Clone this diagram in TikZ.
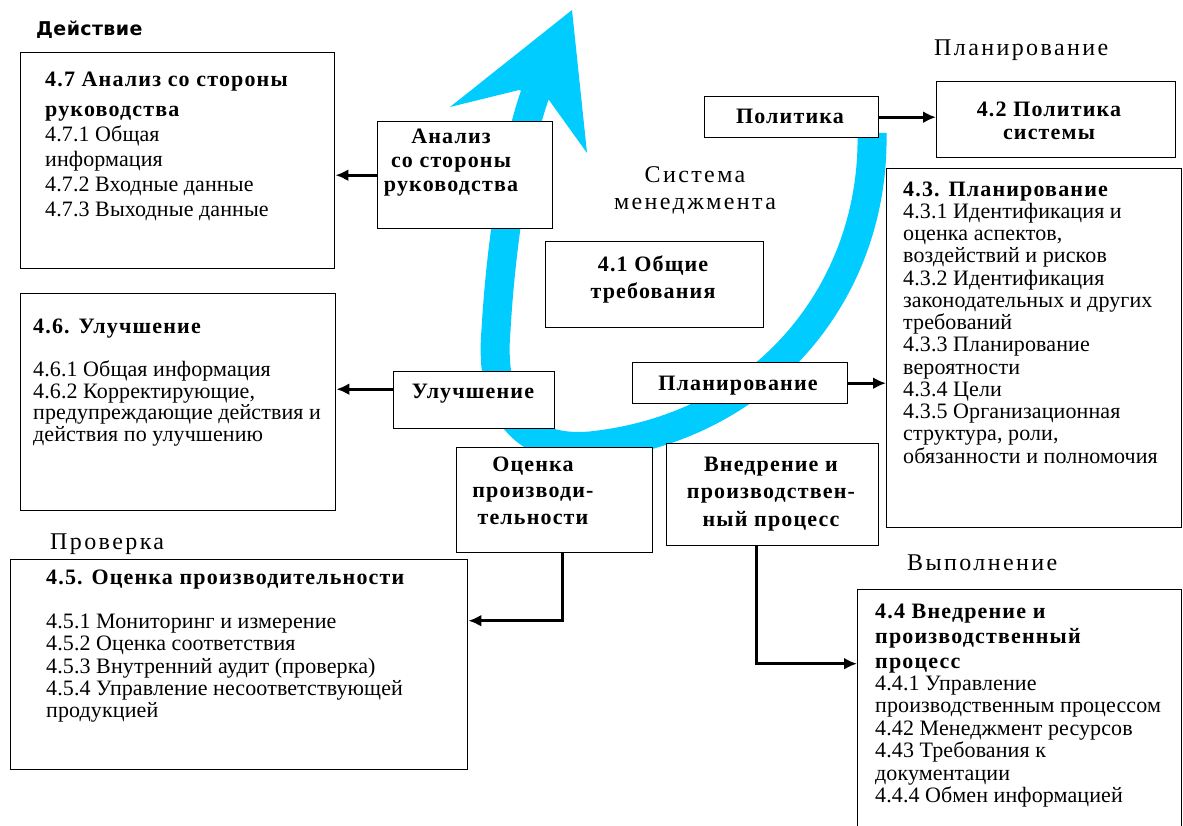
\documentclass[tikz,border=0pt]{standalone}
\usepackage{fontspec}
\setmainfont{Liberation Serif}[LetterSpace=0.5,BoldFeatures={LetterSpace=5.3}]
\newfontfamily\headfont{Liberation Serif}[LetterSpace=10]
\newfontfamily\actfont{DejaVu Sans}[LetterSpace=2]
\usetikzlibrary{arrows.meta,calc}
\definecolor{cycleblue}{RGB}{0,204,255}

% multi-line nodes below are placed by the baseline of their last line
\tikzset{
  frame/.style={draw=black, line width=1.4pt, fill=white, inner sep=0pt, anchor=north west},
  body/.style={anchor=base west, align=left, inner sep=0pt, font=\fontsize{22}{22.3}\selectfont},
  boxlabel/.style={anchor=base, align=center, inner sep=0pt, font=\bfseries\fontsize{22}{25}\selectfont},
  heading/.style={anchor=base west, inner sep=0pt, font=\headfont\fontsize{24}{27}\selectfont},
  conn/.style={line width=3pt, -{Latex[length=13pt,width=12pt]}},
}

\begin{document}
\begin{tikzpicture}[x=1pt,y=-1pt]
\useasboundingbox[fill=white] (0,0) rectangle (1183,825);

% the improvement cycle: a wide blue band ending in a barbed head
\draw[cycleblue, line width=29pt, line cap=butt]
  (872,133) .. controls (875,290) and (765,428) .. (590,446)
            .. controls (515,452) and (490,400) .. (496,330)
            .. controls (500,260) and (512,160) .. (535.5,93);
\fill[cycleblue] (572,10) -- (587,153) -- (549,100) -- (519,90) -- (450,107) -- cycle;

% frames
\node[frame, minimum width=314pt, minimum height=216pt] (b47) at (20,52) {};
\node[frame, minimum width=175pt, minimum height=107pt] (an)  at (377,121) {};
\node[frame, minimum width=174pt, minimum height=41pt]  (pol) at (704,96) {};
\node[frame, minimum width=239pt, minimum height=76pt]  (b42) at (936,81) {};
\node[frame, minimum width=295pt, minimum height=359pt] (b43) at (886,168) {};
\node[frame, minimum width=218pt, minimum height=86pt]  (b41) at (545,241) {};
\node[frame, minimum width=215pt, minimum height=41pt]  (pl)  at (632,362) {};
\node[frame, minimum width=315pt, minimum height=217pt] (b46) at (20,293) {};
\node[frame, minimum width=161pt, minimum height=57pt]  (ul)  at (393,371) {};
\node[frame, minimum width=196pt, minimum height=105pt] (oc)  at (456,447) {};
\node[frame, minimum width=212pt, minimum height=102pt] (vn)  at (666,443) {};
\node[frame, minimum width=457pt, minimum height=210pt] (b45) at (10,559) {};
\node[frame, minimum width=324pt, minimum height=250pt] (b44) at (857,589) {};

% phase headings
\node[anchor=base west, inner sep=0pt, font=\actfont\bfseries\fontsize{19}{22}\selectfont] (hact) at (36,35) {Действие};
\node[heading] (hplan) at (934,55) {Планирование};
\node[heading] (hchk)  at (50,549) {Проверка};
\node[heading] (hdo)   at (907,570) {Выполнение};
\node[anchor=base, align=center, inner sep=0pt, font=\headfont\fontsize{24}{27}\selectfont] (hsys) at (695,209) {Система\\менеджмента};

% short labels
\node[boxlabel, font=\bfseries\fontsize{22}{24}\selectfont] (ant) at (451,191) {Анализ\\со стороны\\руководства};
\node[boxlabel] (polt) at (790,123) {Политика};
\node[boxlabel, font=\bfseries\fontsize{22}{23}\selectfont] (b42t) at (1049,139) {4.2 Политика\\системы};
\node[boxlabel, font=\bfseries\fontsize{22}{27}\selectfont] (b41t) at (653,298) {4.1 Общие\\требования};
\node[boxlabel] (plt) at (738,390) {Планирование};
\node[boxlabel] (ult) at (473,398) {Улучшение};
\node[boxlabel, font=\bfseries\fontsize{22}{26.5}\selectfont] (oct) at (533,524) {Оценка\\производи-\\тельности};
\node[boxlabel, font=\bfseries\fontsize{22}{27.5}\selectfont] (vnt) at (771,526) {Внедрение и\\производствен-\\ный процесс};

% clause texts
\node[body, font=\fontsize{22}{25}\selectfont] (t47) at (45,216) {%
  \textbf{4.7 Анализ со стороны}\\[5pt]
  \textbf{руководства}\\
  4.7.1 Общая\\
  информация\\
  4.7.2 Входные данные\\
  4.7.3 Выходные данные};

\node[body, font=\fontsize{22}{22.25}\selectfont] (t43) at (903,463) {%
  \textbf{4.3. Планирование}\\
  4.3.1 Идентификация и\\
  оценка аспектов,\\
  воздействий и рисков\\
  4.3.2 Идентификация\\
  законодательных и других\\
  требований\\
  4.3.3 Планирование\\
  вероятности\\
  4.3.4 Цели\\
  4.3.5 Организационная\\
  структура, роли,\\
  обязанности и полномочия};

\node[body, font=\fontsize{22}{21.7}\selectfont] (t46) at (33,441.5) {%
  \textbf{4.6. Улучшение}\\
  \mbox{}\\
  4.6.1 Общая информация\\
  4.6.2 Корректирующие,\\
  предупреждающие действия и\\
  действия по улучшению};

\node[body, font=\fontsize{22}{22.3}\selectfont] (t45) at (46,717.8) {%
  \textbf{4.5. Оценка производительности}\\
  \mbox{}\\
  4.5.1 Мониторинг и измерение\\
  4.5.2 Оценка соответствия\\
  4.5.3 Внутренний аудит (проверка)\\
  4.5.4 Управление несоответствующей\\
  продукцией};

\node[body, font=\fontsize{22}{22.4}\selectfont] (t44) at (875,802.4) {%
  \textbf{4.4 Внедрение и}\\[2.6pt]
  \textbf{производственный}\\[2.6pt]
  \textbf{процесс}\\
  4.4.1 Управление\\
  производственным процессом\\
  4.42 Менеджмент ресурсов\\
  4.43 Требования к\\
  документации\\
  4.4.4 Обмен информацией};

% connectors
\draw[conn] (an.west) -- (an.west -| b47.east);
\coordinate (ulout) at ([yshift=11pt]ul.west);
\draw[conn] (ulout) -- (ulout -| b46.east);
\draw[conn] (pol.east) -- (pol.east -| b42.west);
\draw[conn] (pl.east) -- (pl.east -| b43.west);
\draw[conn] ([xshift=8pt]oc.south) |- ([yshift=44pt]b45.east);
\draw[conn] ([xshift=-16pt]vn.south) |- ([yshift=51pt]b44.west);
\end{tikzpicture}
\end{document}
